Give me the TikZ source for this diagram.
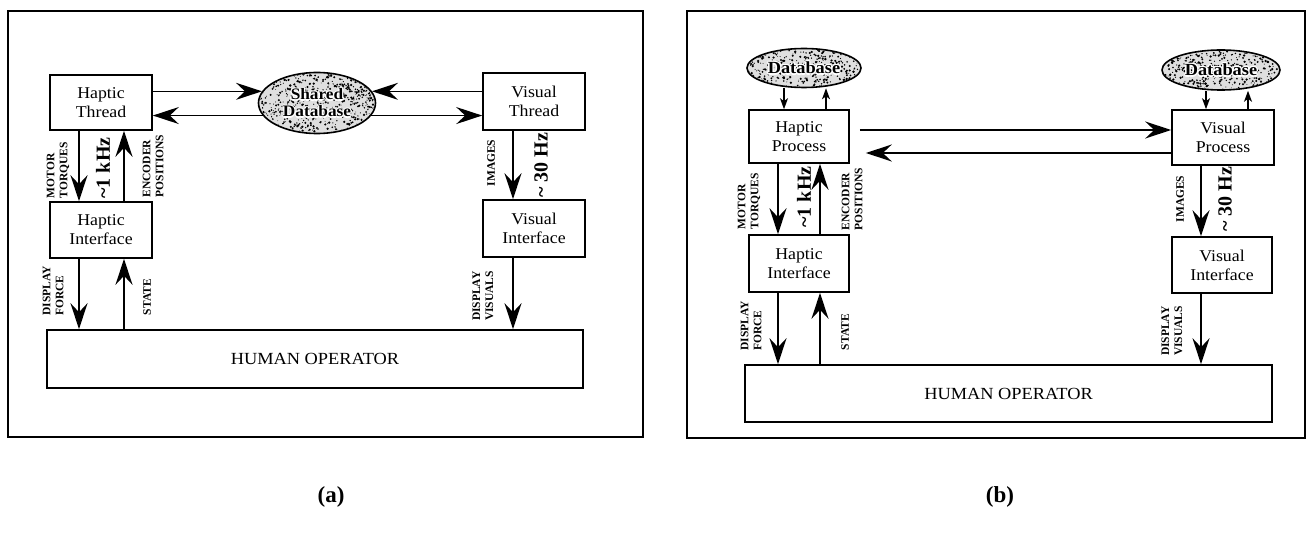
\documentclass[tikz,border=0pt]{standalone}
\usepackage{fontspec}
\setmainfont{Liberation Serif}
\newfontfamily\boxfont{Liberation Serif}[FakeStretch=1.08]
\usetikzlibrary{arrows.meta,shapes.geometric,calc}
\newcommand\speckleDB[4]{%
  \begin{scope}
    \clip (#1.center) ellipse [x radius=#2pt, y radius=#3pt];
    \foreach \i in {1,...,#4}{%
      \pgfmathsetmacro\rr{0.4+0.9*rnd}%
      \fill ($(#1.center)+({#2*rand},{#3*rand})$) circle [radius=\rr pt];
    }
  \end{scope}}
% white halo behind a text placed on a speckled ellipse
\newcommand\haloDB[3]{%
  \foreach \hx/\hy [count=\k] in {1.3/0,-1.3/0,0/1.3,0/-1.3,0.9/0.9,-0.9/0.9,0.9/-0.9,-0.9/-0.9}{%
    \node[#3, text=white] (#1halo\k) at ($(#1.center)+(\hx,\hy)$) {#2};
  }}
\begin{document}
\begin{tikzpicture}[x=1pt,y=-1pt,
  frame/.style={draw, line width=1.3pt, inner sep=0pt},
  box/.style={draw, line width=1.6pt, inner sep=0pt, align=center,
              font=\boxfont\fontsize{16.5}{19}\selectfont},
  optext/.style={font=\boxfont\fontsize{17}{19}\selectfont},
  db/.style={ellipse, draw, line width=1.6pt, fill=gray!25, inner sep=0pt},
  dbtext/.style={align=center, inner sep=0pt, font=\boxfont\bfseries\fontsize{16}{17}\selectfont},
  dbtextb/.style={align=center, inner sep=0pt, font=\boxfont\bfseries\fontsize{17}{18}\selectfont},
  arr/.style={line width=1.5pt, -{Stealth[length=26pt,width=17pt,inset=9pt]}},
  sarr/.style={line width=1.3pt, -{Stealth[length=11pt,width=8pt,inset=3pt]}},
  lab/.style={rotate=90, align=left, inner sep=0pt, font=\bfseries\fontsize{11.5}{13}\selectfont},
  freq/.style={rotate=90, inner sep=0pt, font=\bfseries\fontsize{20}{22}\selectfont},
  captext/.style={inner sep=0pt, font=\bfseries\fontsize{23}{26}\selectfont}]
\useasboundingbox (0,0) rectangle (1307,537);
\pgfmathsetseed{7}

% ---------------- panel (a) ----------------
\node[frame, minimum width=635pt, minimum height=426pt] (FA) at (325.5,224) {};
\node[box, minimum width=102pt, minimum height=55pt] (HT) at (101,102.5) {Haptic\\Thread};
\node[box, minimum width=102pt, minimum height=57pt] (VT) at (534,101.5) {Visual\\Thread};
\node[box, minimum width=102pt, minimum height=56pt] (HI) at (101,230) {Haptic\\Interface};
\node[box, minimum width=102pt, minimum height=57pt] (VI) at (534,228.5) {Visual\\Interface};
\node[box, optext, minimum width=536pt, minimum height=58pt] (HO) at (315,359) {HUMAN OPERATOR};
\node[db, minimum width=117pt, minimum height=61pt] (SD) at (317,103) {};
\speckleDB{SD}{57}{29.5}{650}
\haloDB{SD}{Shared\\Database}{dbtext}
\node[dbtext] (SDt) at (SD.center) {Shared\\Database};

\draw[arr] (HT.east |- SD.168) -- (SD.168);
\draw[arr] (SD.193) -- (HT.east |- SD.193);
\draw[arr] (VT.west |- SD.12) -- (SD.12);
\draw[arr] (SD.347) -- (VT.west |- SD.347);

\coordinate (xa1) at (79,0);
\coordinate (xa2) at (124,0);
\coordinate (xa3) at (513,0);
\draw[arr] (xa1 |- HT.south) -- (xa1 |- HI.north);
\draw[arr] (xa2 |- HI.north) -- (xa2 |- HT.south);
\draw[arr] (xa1 |- HI.south) -- (xa1 |- HO.north);
\draw[arr] (xa2 |- HO.north) -- (xa2 |- HI.south);
\draw[arr] (xa3 |- VT.south) -- (xa3 |- VI.north);
\draw[arr] (xa3 |- VI.south) -- (xa3 |- HO.north);

\node[lab] (la1) at (58,170) {MOTOR\\TORQUES};
\node[freq] (la2) at (103,168) {\textasciitilde1 kHz};
\node[lab] (la3) at (153,166) {ENCODER\\POSITIONS};
\node[lab] (la4) at (491,163) {IMAGES};
\node[freq] (la5) at (541,165) {\textasciitilde\ 30 Hz};
\node[lab] (la6) at (53,291) {DISPLAY\\FORCE};
\node[lab] (la7) at (147,297) {STATE};
\node[lab] (la8) at (483,296) {DISPLAY\\VISUALS};

% ---------------- panel (b) ----------------
\node[frame, minimum width=618pt, minimum height=427pt] (FB) at (996,224.5) {};
\node[box, minimum width=100pt, minimum height=53pt] (HP) at (799,136.5) {Haptic\\Process};
\node[box, minimum width=102pt, minimum height=55pt] (VP) at (1223,137.5) {Visual\\Process};
\node[box, minimum width=100pt, minimum height=57pt] (HI2) at (799,263.5) {Haptic\\Interface};
\node[box, minimum width=100pt, minimum height=56pt] (VI2) at (1222,265) {Visual\\Interface};
\node[box, optext, minimum width=527pt, minimum height=57pt] (HO2) at (1008.5,393.5) {HUMAN OPERATOR};

\coordinate (xb1) at (784,0);
\coordinate (xb2) at (826,0);
\coordinate (xb3) at (1206,0);
\coordinate (xb4) at (1248,0);
\coordinate (yb1) at (0,130);
\coordinate (yb2) at (0,153);

\node[db, minimum width=114pt, minimum height=39pt] (DB1) at (804,68) {};
\speckleDB{DB1}{56}{18.5}{420}
\haloDB{DB1}{Database}{dbtextb}
\node[dbtextb] (DB1t) at (DB1.center) {Database};
\node[db, minimum width=118pt, minimum height=40pt] (DB2) at (1221,70) {};
\speckleDB{DB2}{58}{19}{420}
\haloDB{DB2}{Database}{dbtextb}
\node[dbtextb] (DB2t) at (DB2.center) {Database};

\draw[sarr] (xb1 |- DB1.south) -- (xb1 |- HP.north);
\draw[sarr] (xb2 |- HP.north) -- (xb2 |- DB1.south);
\draw[sarr] (xb3 |- DB2.south) -- (xb3 |- VP.north);
\draw[sarr] (xb4 |- VP.north) -- (xb4 |- DB2.south);

\draw[arr, shorten <=10pt] (HP.east |- yb1) -- (VP.west |- yb1);
\draw[arr, shorten >=16pt] (VP.west |- yb2) -- (HP.east |- yb2);

\coordinate (xc1) at (778,0);
\coordinate (xc2) at (820,0);
\coordinate (xc3) at (1201,0);
\draw[arr] (xc1 |- HP.south) -- (xc1 |- HI2.north);
\draw[arr] (xc2 |- HI2.north) -- (xc2 |- HP.south);
\draw[arr] (xc1 |- HI2.south) -- (xc1 |- HO2.north);
\draw[arr] (xc2 |- HO2.north) -- (xc2 |- HI2.south);
\draw[arr] (xc3 |- VP.south) -- (xc3 |- VI2.north);
\draw[arr] (xc3 |- VI2.south) -- (xc3 |- HO2.north);

\node[lab] (lb1) at (749,201) {MOTOR\\TORQUES};
\node[freq] (lb2) at (804,197) {\textasciitilde1 kHz};
\node[lab] (lb3) at (852,199) {ENCODER\\POSITIONS};
\node[lab] (lb4) at (1180,199) {IMAGES};
\node[freq] (lb5) at (1225,199) {\textasciitilde\ 30 Hz};
\node[lab] (lb6) at (751,326) {DISPLAY\\FORCE};
\node[lab] (lb7) at (845,332) {STATE};
\node[lab] (lb8) at (1172,331) {DISPLAY\\VISUALS};

% captions
\node[captext] (capA) at (331,497) {(a)};
\node[captext] (capB) at (1000,497) {(b)};
\end{tikzpicture}
\end{document}
